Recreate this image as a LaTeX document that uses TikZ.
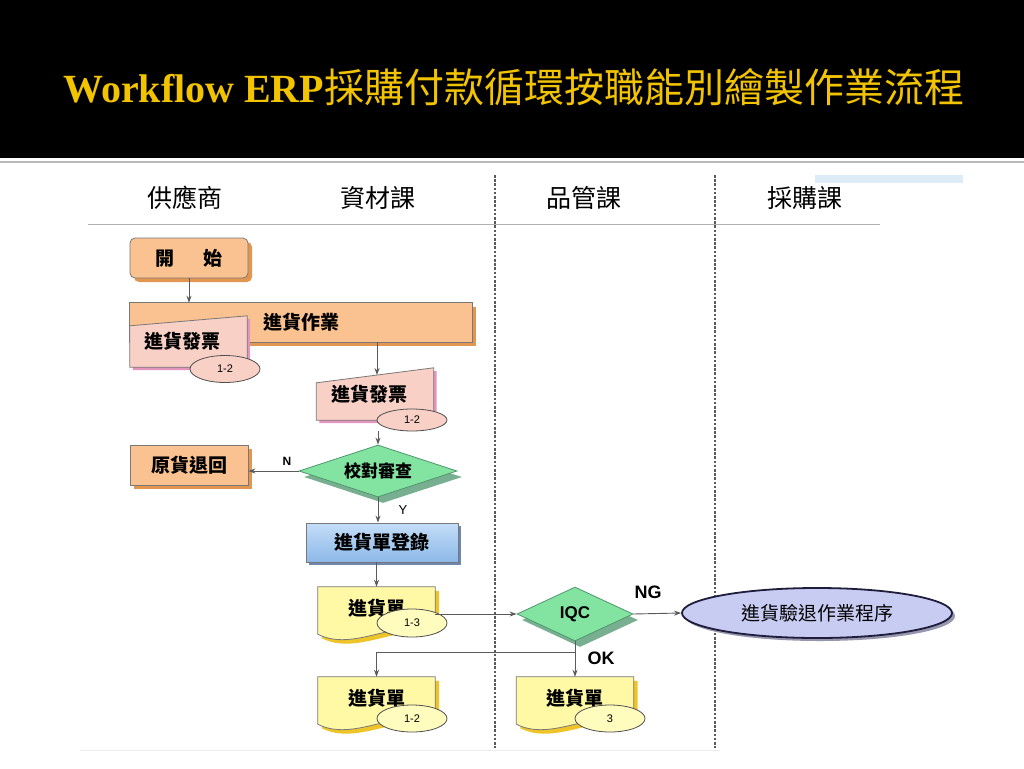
\documentclass[tikz,border=0pt]{standalone}
\usepackage{fontspec}
\setmainfont{Liberation Serif}
\newfontfamily\cjk{Noto Sans CJK TC}
\newfontfamily\lsans{Liberation Sans}
\usetikzlibrary{shapes.geometric,shadows,backgrounds,arrows.meta,calc}
\definecolor{gold}{RGB}{242,196,0}
\definecolor{orfill}{RGB}{250,194,144}
\definecolor{orsh}{RGB}{226,150,80}
\definecolor{pkfill}{RGB}{248,208,198}
\definecolor{pksh}{RGB}{226,150,190}
\definecolor{grfill}{RGB}{130,228,160}
\definecolor{grsh}{RGB}{120,175,145}
\definecolor{grline}{RGB}{80,150,110}
\definecolor{bltop}{RGB}{196,222,248}
\definecolor{blbot}{RGB}{140,184,232}
\definecolor{blsh}{RGB}{110,135,175}
\definecolor{yfill}{RGB}{255,248,165}
\definecolor{ysh}{RGB}{238,196,40}
\definecolor{yell}{RGB}{255,252,190}
\definecolor{lvfill}{RGB}{200,204,242}
\definecolor{lvline}{RGB}{30,30,60}
\definecolor{lvsh}{RGB}{150,150,175}
\definecolor{bline}{RGB}{120,120,120}
\definecolor{eline}{RGB}{80,80,80}
\definecolor{arr}{RGB}{90,90,90}
\definecolor{hdrline}{RGB}{175,175,175}
\definecolor{dotc}{RGB}{90,90,90}
\definecolor{skyb}{RGB}{222,236,248}
\tikzset{
  nf/.style={font=\cjk\bfseries\fontsize{19}{19}\selectfont},
  hdr/.style={font=\cjk\fontsize{25}{25}\selectfont, inner sep=0pt},
  orshape/.style={fill=orfill, draw=bline, line width=0.8pt,
    drop shadow={shadow xshift=4pt,shadow yshift=-4pt,fill=orsh,opacity=1}},
  orbox/.style={orshape, nf, minimum width=118pt, minimum height=40pt, inner sep=0pt},
  pkshape/.style={fill=pkfill, draw=bline, line width=0.8pt,
    drop shadow={shadow xshift=3pt,shadow yshift=-3pt,fill=pksh,opacity=1}},
  yshape/.style={fill=yfill, draw=bline, line width=0.8pt,
    drop shadow={shadow xshift=4pt,shadow yshift=-4pt,fill=ysh,opacity=1}},
  docnode/.style={nf, minimum width=117pt, inner sep=0pt},
  diam/.style={diamond, shape aspect=3, fill=grfill, draw=grline, line width=0.8pt, inner sep=0pt,
    drop shadow={shadow xshift=5pt,shadow yshift=-6pt,fill=grsh,opacity=1}},
  blbox/.style={nf, top color=bltop, bottom color=blbot, draw=bline, line width=0.8pt,
    minimum width=152pt, minimum height=39pt, inner sep=0pt,
    drop shadow={shadow xshift=3pt,shadow yshift=-3pt,fill=blsh,opacity=1}},
  ell/.style={ellipse, draw=eline, line width=0.8pt, minimum width=70pt, inner sep=0pt,
    font=\lsans\fontsize{11}{11}\selectfont},
  arrow/.style={draw=arr, line width=0.9pt, -{Stealth[length=7pt,width=5pt]}},
  dotline/.style={draw=dotc, line width=2.8pt, dash pattern=on 2.6pt off 1.6pt},
  lab/.style={font=\lsans\bfseries\fontsize{18}{18}\selectfont, inner sep=0pt},
}
\newcommand\ydocshape[1]{%
  \begin{pgfonlayer}{background}
  \path[yshape] (#1.north west) -- (#1.north east) -- (#1.south east)
    .. controls +(-40pt,10pt) and +(35pt,-18pt) .. ([yshift=-5pt]#1.south west) -- cycle;
  \end{pgfonlayer}}
\newcommand\pkdocshape[2]{%
  \begin{pgfonlayer}{background}
  \path[pkshape] (#1.south west) -- ([yshift=-#2]#1.north west) -- (#1.north east)
    -- (#1.south east) -- cycle;
  \end{pgfonlayer}}
\begin{document}
\begin{tikzpicture}[x=1pt,y=-1pt]
\useasboundingbox (0,0) rectangle (1024,768);
\begin{pgfonlayer}{background}
\fill[white] (0,0) rectangle (1024,768);
\fill[black] (0,0) rectangle (1024,158);
\draw[gray!55, line width=1.5pt] (0,162) -- (1024,162);
\fill[skyb] (815,175) rectangle (963,183);
\end{pgfonlayer}
\node[anchor=base west, text=gold, inner sep=0pt] (title) at (63,102)
  {\fontsize{40}{40}\selectfont\bfseries Workflow ERP\mdseries\cjk\fontsize{40}{40}\selectfont 採購付款循環按職能別繪製作業流程};

% header
\node[hdr] (h1) at (185,198) {供應商};
\node[hdr] (h2) at (378,198) {資材課};
\node[hdr] (h3) at (584,198) {品管課};
\node[hdr] (h4) at (805,198) {採購課};
\draw[hdrline, line width=1pt] (88,224) -- (880,224);
\draw[gray!15, line width=1pt] (80,750) -- (720,750);
\draw[dotline] (495,175) -- (495,748);
\draw[dotline] (715,175) -- (715,748);

% nodes
\node[orbox, rounded corners=5pt] (start) at (189,258) {開\hspace{1.5em}始};
\node[nf, minimum width=342pt, minimum height=39pt, inner sep=0pt] (op) at (301,322.5) {進貨作業};
\begin{pgfonlayer}{background}
\path[orshape] (op.north west) rectangle (op.south east);
\end{pgfonlayer}
\node[docnode, minimum height=51pt] (inv1) at (188.5,341.5) {\hspace*{-12pt}進貨發票};
\pkdocshape{inv1}{10pt}
\node[ell, fill=pkfill, minimum height=27pt] (e1) at (225,369) {1-2};

\node[docnode, minimum height=52pt] (inv2) at (375,394) {\hspace*{-12pt}進貨發票};
\pkdocshape{inv2}{15pt}
\node[ell, fill=pkfill, minimum height=22pt] (e2) at (412,420) {1-2};
\coordinate (inv2top) at (377,375);

\node[diam, minimum width=158pt, minimum height=52pt, font=\cjk\bfseries\fontsize{17}{17}\selectfont] (chk) at (378,471) {校對審查};
\node[orbox] (ret) at (189,465) {原貨退回};
\node[blbox] (reg) at (382,542.5) {進貨單登錄};

\node[docnode, minimum height=42pt] (d1) at (376.5,608) {\raisebox{2pt}{進貨單}};
\ydocshape{d1}
\node[ell, fill=yell, minimum height=28pt] (e3) at (412,623) {1-3};

\node[diam, shape aspect=2, minimum width=116pt, minimum height=54pt, font=\lsans\bfseries\fontsize{17}{17}\selectfont] (iqc) at (575,614) {IQC};
\node[ellipse, fill=lvfill, draw=lvline, line width=1.8pt, minimum width=270pt, minimum height=50pt,
  inner sep=0pt, font=\cjk\fontsize{19}{19}\selectfont,
  drop shadow={shadow xshift=3pt,shadow yshift=-3pt,fill=lvsh,opacity=1}] (ng) at (817,613) {進貨驗退作業程序};

\node[docnode, minimum height=42pt] (d2) at (376.5,698) {\raisebox{2pt}{進貨單}};
\ydocshape{d2}
\node[ell, fill=yell, minimum height=27pt] (e4) at (412,718.5) {1-2};
\node[docnode, minimum height=42pt] (d3) at (575,698) {\raisebox{2pt}{進貨單}};
\ydocshape{d3}
\node[ell, fill=yell, minimum height=27pt] (e5) at (610,718.5) {3};

% labels
\node[font=\lsans\bfseries\fontsize{12}{12}\selectfont, inner sep=0pt] (nlab) at (287,461) {N};
\node[font=\lsans\fontsize{13}{13}\selectfont, inner sep=0pt] (ylab) at (403,510) {Y};
\node[lab] (nglab) at (648,592) {NG};
\node[lab] (oklab) at (601,658) {OK};

% connectors
\draw[arrow] (start.south) -- (start.south |- op.north);
\draw[arrow] (op.south -| inv2top) -- (inv2top);
\draw[arrow] (chk.north |- e2.south) -- (chk.north);
\draw[arrow] (chk.west) -- (chk.west -| ret.east);
\draw[arrow] (chk.south) -- (chk.south |- reg.north);
\draw[arrow] (d1.north |- reg.south) -- (d1.north);
\draw[arrow] (iqc.west -| d1.east) -- (iqc.west);
\draw[arrow] (iqc.east) -- (ng.west);
\draw[arrow] (iqc.south) -- (d3.north);
\coordinate (okj) at (575,652);
\draw[arrow] (okj) -| (d2.north);
\end{tikzpicture}
\end{document}
